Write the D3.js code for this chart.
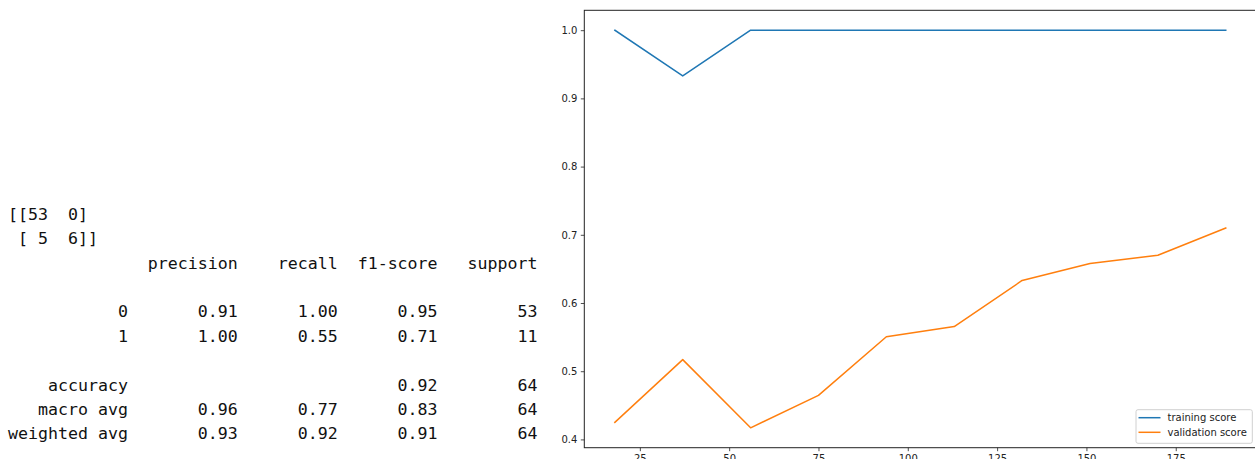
<!DOCTYPE html>
<html>
<head>
<meta charset="utf-8">
<script src="https://cdn.jsdelivr.net/npm/d3@7"></script>
<style>
  html, body { margin: 0; padding: 0; background: #fff; }
  svg { display: block; }
</style>
</head>
<body>
<svg id="fig" width="1255" height="459"></svg>
<script>
// Learning-curve data: training set sizes and mean scores
const trainSizes = [18, 37, 56, 75, 94, 113, 132, 151, 170, 189];
const trainingScore = [1.0, 0.933, 1.0, 1.0, 1.0, 1.0, 1.0, 1.0, 1.0, 1.0];
const validationScore = [0.425, 0.517, 0.417, 0.4645, 0.5505, 0.5655, 0.633, 0.658, 0.670, 0.710];
const seriesNames = ["training score", "validation score"];
const seriesColors = ["#1f77b4", "#ff7f0e"];

const xTicks = [25, 50, 75, 100, 125, 150, 175];
const yTicks = [0.4, 0.5, 0.6, 0.7, 0.8, 0.9, 1.0];

// Confusion matrix and classification report
const confusion = [[53, 0], [5, 6]];
const reportHeaders = ["precision", "recall", "f1-score", "support"];
const classNames = ["0", "1"];
const precision = [0.91, 1.00];
const recall = [1.00, 0.55];
const f1 = [0.95, 0.71];
const support = [53, 11];
const accuracy = 0.92;
const accuracySupport = 64;
const avgNames = ["macro avg", "weighted avg"];
const avgPrecision = [0.96, 0.93];
const avgRecall = [0.77, 0.92];
const avgF1 = [0.83, 0.91];
const avgSupport = [64, 64];

const svg = d3.select("#fig");

// ---------- text report (monospace block) ----------
const pad = (s, n) => String(s).padStart(n);
const W = 12;
const fmt = v => v.toFixed(2);
const lines = [];
lines.push("[[" + pad(confusion[0][0], 2) + "  " + confusion[0][1] + "]");
lines.push(" [" + pad(confusion[1][0], 2) + "  " + confusion[1][1] + "]]");
lines.push(pad("", W) + " " + reportHeaders.map(h => " " + pad(h, 9)).join(""));
lines.push("");
classNames.forEach((c, i) => {
  lines.push(pad(c, W) + " " + [precision[i], recall[i], f1[i]].map(v => " " + pad(fmt(v), 9)).join("") + " " + pad(support[i], 9));
});
lines.push("");
lines.push(pad("accuracy", W) + " " + " " + pad("", 9) + " " + pad("", 9) + " " + pad(fmt(accuracy), 9) + " " + pad(accuracySupport, 9));
avgNames.forEach((c, i) => {
  lines.push(pad(c, W) + " " + [avgPrecision[i], avgRecall[i], avgF1[i]].map(v => " " + pad(fmt(v), 9)).join("") + " " + pad(avgSupport[i], 9));
});

const report = svg.append("g")
  .attr("font-family", "'DejaVu Sans Mono', monospace")
  .attr("font-size", 16.6)
  .attr("fill", "#111");
report.selectAll("text").data(lines).join("text")
  .attr("x", 8)
  .attr("y", (d, i) => 220 + i * 24.37)
  .style("white-space", "pre")
  .attr("xml:space", "preserve")
  .text(d => d);

// ---------- learning curve plot ----------
const plot = { left: 584.3, right: 1256.3, top: 10.3, bottom: 447.7 };

const allX = trainSizes;
const allY = trainingScore.concat(validationScore);
const xMin = d3.min(allX), xMax = d3.max(allX);
const yMin = d3.min(allY), yMax = d3.max(allY);
const xm = (xMax - xMin) * 0.05, ym = (yMax - yMin) * 0.05;

const x = d3.scaleLinear().domain([xMin - xm, xMax + xm]).range([plot.left, plot.right]);
const y = d3.scaleLinear().domain([yMin - ym, yMax + ym]).range([plot.bottom, plot.top]);

const line = d3.line().x((d, i) => x(trainSizes[i])).y(d => y(d));

const lineG = svg.append("g");
[trainingScore, validationScore].forEach((s, k) => {
  lineG.append("path")
    .datum(s)
    .attr("d", line)
    .attr("fill", "none")
    .attr("stroke", seriesColors[k])
    .attr("stroke-width", 1.5)
    .attr("stroke-linejoin", "round")
    .attr("stroke-linecap", "square");
});

// axes
const axisFont = "'DejaVu Sans', sans-serif";
const xAxis = svg.append("g")
  .attr("transform", `translate(0,${plot.bottom})`)
  .call(d3.axisBottom(x).tickValues(xTicks).tickSize(3.5).tickPadding(3.5).tickFormat(d3.format("d")));
const yAxis = svg.append("g")
  .attr("transform", `translate(${plot.left},0)`)
  .call(d3.axisLeft(y).tickValues(yTicks).tickSize(3.5).tickPadding(3.5).tickFormat(d3.format(".1f")));

[xAxis, yAxis].forEach(a => {
  a.select(".domain").remove();
  a.selectAll(".tick line").attr("stroke", "#222").attr("stroke-width", 0.8);
  a.selectAll(".tick text").attr("font-family", axisFont).attr("font-size", 10).attr("fill", "#222");
});

// spines
const spines = svg.append("g").attr("stroke", "#222").attr("stroke-width", 1).attr("fill", "none");
spines.append("rect")
  .attr("x", plot.left).attr("y", plot.top)
  .attr("width", plot.right - plot.left).attr("height", plot.bottom - plot.top);

// legend
const legend = svg.append("g").attr("font-family", axisFont).attr("font-size", 10);
legend.append("rect")
  .attr("x", 1136).attr("y", 409.7).attr("width", 116.3).attr("height", 33.6)
  .attr("rx", 2).attr("fill", "#fff").attr("fill-opacity", 0.8)
  .attr("stroke", "#d0d0d0").attr("stroke-width", 1);
seriesNames.forEach((n, k) => {
  const yy = 417.7 + k * 14.6;
  legend.append("line")
    .attr("x1", 1138.5).attr("x2", 1160.5).attr("y1", yy).attr("y2", yy)
    .attr("stroke", seriesColors[k]).attr("stroke-width", 1.5);
  legend.append("text")
    .attr("x", 1167.5).attr("y", yy).attr("dy", "0.35em")
    .attr("fill", "#222").text(n);
});
</script>
</body>
</html>
